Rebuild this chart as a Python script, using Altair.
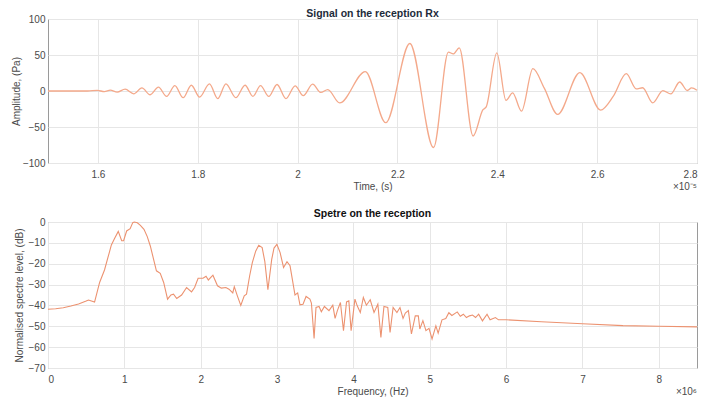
import altair as alt
import pandas as pd

# ---- Signal on the reception (time in units of 1e-5 s, amplitude in Pa) ----
sig_t = [1.5000, 1.5792, 1.5990, 1.6129, 1.6248, 1.6386, 1.6545, 1.6717, 1.6881, 1.7046,
         1.7212, 1.7376, 1.7541, 1.7707, 1.7871, 1.8036, 1.8234, 1.8400, 1.8564, 1.8762,
         1.8947, 1.9105, 1.9257, 1.9422, 1.9588, 1.9766, 1.9950, 2.0115, 2.0301, 2.0465,
         2.0604, 2.0842, 2.1356, 2.1766, 2.2248, 2.2723, 2.3020, 2.3119, 2.3238, 2.3515,
         2.3713, 2.3778, 2.3990, 2.4174, 2.4307, 2.4485, 2.4713, 2.4941, 2.5208, 2.5653,
         2.6069, 2.6321, 2.6584, 2.6782, 2.6911, 2.7113, 2.7317, 2.7475, 2.7653, 2.7806,
         2.7891, 2.8000]
sig_a = [0.0, 0.0, 0.8, -0.8, 1.2, -1.5, 2.5, -3.9, 4.3, -5.2,
         5.5, -7.5, 7.5, -9.3, 8.0, -8.4, 9.8, -10.7, 10.0, -9.3,
         8.0, -7.5, 7.5, -7.5, 9.0, -10.7, 7.0, -6.5, 9.5, -2.0,
         2.0, -16.6, 27.0, -44.0, 66.0, -78.5, 54.0, 51.5, 60.0, -62.5,
         -26.0, -22.0, 53.0, -13.0, -2.5, -28.0, 31.0, 4.0, -32.5, 25.6,
         -26.5, -7.5, 24.0, 3.0, 4.5, -16.6, 0.5, -4.0, 12.5, 0.7,
         4.3, 1.0]

# ---- Spectrum on the reception (frequency in MHz, level in dB) ----
spec_f = [0.0, 0.1, 0.2, 0.3, 0.4, 0.5, 0.53, 0.61, 0.676, 0.74,
          0.80, 0.83, 0.87, 0.92, 0.965, 0.99, 1.03, 1.076, 1.11, 1.13,
          1.17, 1.21, 1.257, 1.30, 1.34, 1.42, 1.47, 1.515, 1.566, 1.61,
          1.644, 1.686, 1.75, 1.815, 1.88, 1.92, 1.966, 2.03, 2.07, 2.10,
          2.16, 2.22, 2.27, 2.33, 2.37, 2.42, 2.44, 2.48, 2.525, 2.57,
          2.60, 2.64, 2.676, 2.72, 2.76, 2.805, 2.84, 2.88, 2.93, 2.96,
          2.998, 3.04, 3.085, 3.13, 3.17, 3.235, 3.27, 3.30, 3.34, 3.38,
          3.43, 3.45, 3.485, 3.51, 3.55, 3.58, 3.62, 3.68, 3.73, 3.76,
          3.79, 3.83, 3.87, 3.91, 3.94, 3.97, 4.02, 4.05, 4.09, 4.13,
          4.17, 4.22, 4.27, 4.32, 4.36, 4.40, 4.45, 4.48, 4.52, 4.57,
          4.61, 4.65, 4.68, 4.72, 4.76, 4.81, 4.85, 4.87, 4.91, 4.95,
          4.99, 5.03, 5.08, 5.11, 5.16, 5.21, 5.25, 5.29, 5.36, 5.40,
          5.44, 5.48, 5.52, 5.56, 5.60, 5.64, 5.69, 5.75, 5.79, 5.86,
          5.90, 6.0, 6.46, 7.0, 7.53, 8.0, 8.5]
spec_db = [-41.8, -41.6, -41.1, -40.3, -39.3, -37.9, -37.4, -38.4, -29.0, -23.0,
           -15.0, -11.0, -8.0, -4.5, -9.0, -9.0, -4.3, -3.2, -0.3, 0.0,
           -0.4, -1.6, -3.5, -7.0, -11.5, -23.4, -24.6, -29.0, -37.0, -35.0,
           -34.6, -36.7, -35.0, -31.4, -33.5, -31.4, -27.0, -27.0, -26.0, -27.8,
           -25.5, -30.6, -31.7, -31.4, -32.2, -34.0, -31.0, -35.4, -40.0, -35.4,
           -34.6, -26.0, -19.5, -14.0, -11.2, -12.3, -19.0, -32.5, -17.9, -12.5,
           -10.7, -14.7, -21.8, -19.0, -21.0, -35.0, -34.0, -39.7, -39.4, -35.7,
           -37.0, -38.9, -55.8, -41.0, -40.5, -43.0, -40.5, -42.5, -39.9, -46.2,
           -42.5, -38.6, -52.1, -38.3, -37.8, -52.1, -37.0, -40.2, -43.4, -36.2,
           -39.9, -37.3, -43.4, -39.4, -55.3, -40.5, -41.0, -52.9, -41.0, -43.4,
           -41.0, -46.2, -43.7, -42.5, -53.7, -45.0, -45.0, -51.3, -47.3, -52.1,
           -51.0, -56.1, -49.8, -53.3, -46.9, -46.3, -43.5, -44.8, -43.1, -45.2,
           -44.2, -45.8, -45.0, -44.6, -45.8, -44.2, -47.4, -44.2, -46.9, -45.8,
           -46.9, -46.9, -47.8, -48.8, -49.7, -50.0, -50.3]

time_ticks = [1.6, 1.8, 2.0, 2.2, 2.4, 2.6, 2.8]
amp_ticks = [-100, -50, 0, 50, 100]
freq_ticks = [0, 1, 2, 3, 4, 5, 6, 7, 8]
db_ticks = [0, -10, -20, -30, -40, -50, -60, -70]

top_title = ["Signal on the reception Rx"]
bot_title = ["Spetre on the reception"]
top_exp_label = ["×10⁻⁵"]
bot_exp_label = ["×10⁶"]

FONT = "Liberation Sans"
W, H1, H2 = 649, 144, 146
LINE1 = "#F4A98B"
LINE2 = "#EC9270"
TXT = "#4a4a4a"

sig_df = pd.DataFrame({"t": sig_t, "a": sig_a})
spec_df = pd.DataFrame({"f": spec_f, "db": spec_db})


def axis(**kw):
    base = dict(
        labelFont=FONT, labelFontSize=10, labelColor=TXT,
        titleFont=FONT, titleFontSize=10, titleColor=TXT, titleFontWeight="normal",
        grid=True, gridColor="#E6E6E6", ticks=False, domain=False,
    )
    base.update(kw)
    return alt.Axis(**base)


def text_layer(label, x, y, **kw):
    return alt.Chart(pd.DataFrame({"s": label})).mark_text(font=FONT, **kw).encode(
        x=alt.value(x), y=alt.value(y), text="s:N"
    )


top_line = alt.Chart(sig_df).mark_line(
    color=LINE1, strokeWidth=1.3, interpolate="monotone"
).encode(
    x=alt.X("t:Q", scale=alt.Scale(domain=[1.5, 2.8], nice=False, zero=False),
            axis=axis(values=time_ticks, format="~g", title="Time, (s)",
                      labelPadding=6, titlePadding=2, labelFlush=True)),
    y=alt.Y("a:Q", scale=alt.Scale(domain=[-100, 100], nice=False),
            axis=axis(values=amp_ticks, title="Amplitude, (Pa)",
                      labelPadding=3, titlePadding=1)),
)
top = alt.layer(
    top_line,
    text_layer(top_title, W / 2, -2, align="center", baseline="alphabetic",
               fontSize=10.5, fontWeight="bold", color="#1d2b3a"),
    text_layer(top_exp_label, W, H1 + 24, align="right", baseline="middle",
               fontSize=10, color=TXT),
).properties(width=W, height=H1)

bot_line = alt.Chart(spec_df).mark_line(
    color=LINE2, strokeWidth=1.1
).encode(
    x=alt.X("f:Q", scale=alt.Scale(domain=[0, 8.5], nice=False),
            axis=axis(values=freq_ticks, format="~g", title="Frequency, (Hz)",
                      labelPadding=6, titlePadding=2)),
    y=alt.Y("db:Q", scale=alt.Scale(domain=[-70, 0], nice=False),
            axis=axis(values=db_ticks, title="Normalised spectre level, (dB)",
                      labelPadding=3, titlePadding=4)),
)
bot = alt.layer(
    bot_line,
    text_layer(bot_title, W / 2, -5, align="center", baseline="alphabetic",
               fontSize=10.5, fontWeight="bold", color="#111111"),
    text_layer(bot_exp_label, W, H2 + 24, align="right", baseline="middle",
               fontSize=10, color=TXT),
).properties(width=W, height=H2)

chart = alt.vconcat(top, bot, spacing=15).properties(
    padding={"left": 2, "top": 0, "right": 0, "bottom": 0},
    background="white",
).configure_view(stroke="#9a9a9a", strokeWidth=1)

chart.save("out.html", embed_options={"renderer": "svg", "actions": False})
